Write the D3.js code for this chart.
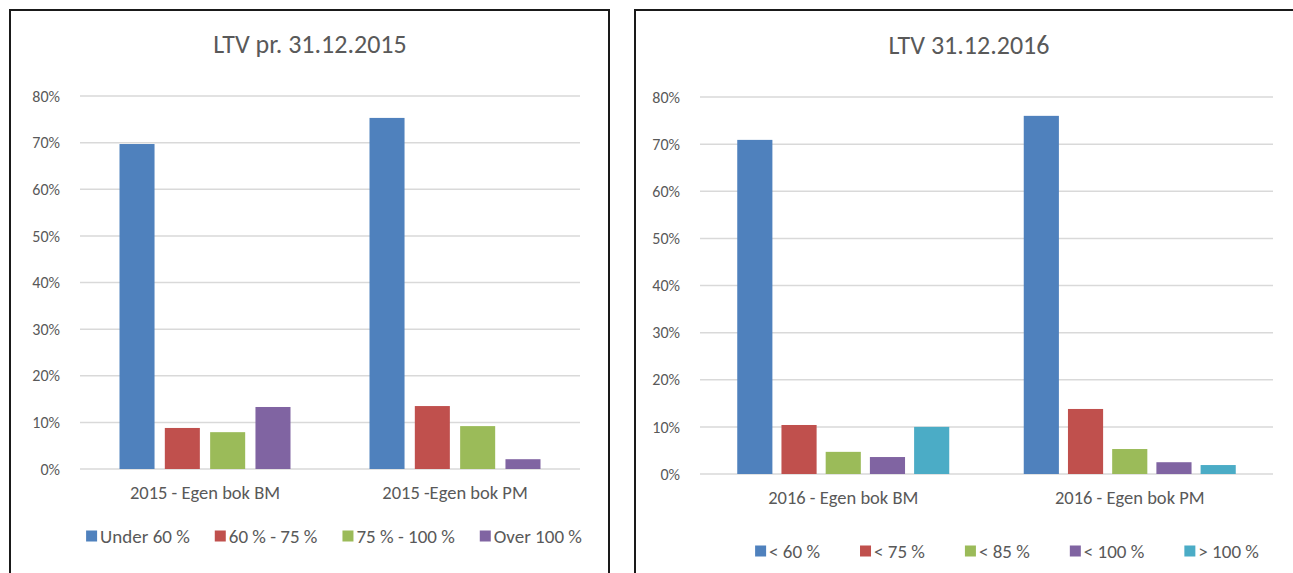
<!DOCTYPE html>
<html>
<head>
<meta charset="utf-8">
<script src="https://cdn.jsdelivr.net/npm/d3@7"></script>
<style>
  html, body { margin: 0; padding: 0; background: #fff; }
  svg { display: block; }
  text { font-family: Carlito, Lato, "Open Sans", sans-serif; fill: #595959; }
</style>
</head>
<body>
<svg id="chart" width="1293" height="573"></svg>
<script>
// Данные — первый график (2015)
const cats2015 = ['2015 - Egen bok BM', '2015 -Egen bok PM'];
const series2015 = ['Under 60 %', '60 % - 75 %', '75 % - 100 %', 'Over 100 %'];
const values2015 = [
    [69.7, 8.8, 7.9, 13.3],
    [75.3, 13.5, 9.2, 2.1]
];

// Данные — второй график (2016)
const cats2016 = ['2016 - Egen bok BM', '2016 - Egen bok PM'];
const series2016 = ['< 60 %', '< 75 %', '< 85 %', '< 100 %', '> 100 %'];
const values2016 = [
    [70.9, 10.4, 4.7, 3.6, 10.0],
    [76.0, 13.8, 5.3, 2.5, 1.9]
];

const yTicks = [0, 10, 20, 30, 40, 50, 60, 70, 80];
const colors = ['#4F81BD', '#C0504D', '#9BBB59', '#8064A2', '#4BACC6'];

const svg = d3.select('#chart');

// Рисуем одну панель
const drawPanel = (cfg) => {
    const g = svg.append('g');

    // рамка
    g.append('rect')
        .attr('x', cfg.box[0]).attr('y', cfg.box[1])
        .attr('width', cfg.box[2]).attr('height', cfg.box[3])
        .attr('fill', '#fff').attr('stroke', '#1a1a1a').attr('stroke-width', 2);

    g.append('text')
        .attr('x', cfg.titleX).attr('y', cfg.titleY)
        .attr('text-anchor', 'middle').attr('dominant-baseline', 'middle')
        .style('font-size', '26px')
        .text(cfg.title);

    const y = d3.scaleLinear().domain([0, 80]).range([cfg.bottom, cfg.top]);
    const x0 = d3.scaleBand().domain(cfg.cats)
        .range([cfg.left, cfg.right])
        .paddingInner(cfg.groupPad).paddingOuter(cfg.groupPad / 2);
    const x1 = d3.scaleBand().domain(cfg.series)
        .range([0, x0.bandwidth()])
        .paddingInner(cfg.barPad);

    // сетка
    g.append('g')
        .selectAll('line')
        .data(yTicks)
        .join('line')
        .attr('x1', cfg.left).attr('x2', cfg.right)
        .attr('y1', d => y(d)).attr('y2', d => y(d))
        .attr('stroke', '#D9D9D9').attr('stroke-width', 1.5);

    // подписи оси Y
    const yAxis = d3.axisLeft(y).tickValues(yTicks).tickSize(0).tickPadding(0)
        .tickFormat(d => d + '%');
    const ya = g.append('g')
        .attr('transform', `translate(${cfg.left - 20},0)`)
        .call(yAxis);
    ya.select('.domain').remove();
    ya.selectAll('text').style('font-size', '16px').attr('fill', '#595959');

    // столбики
    g.append('g')
        .selectAll('g')
        .data(cfg.values)
        .join('g')
        .attr('transform', (d, i) => `translate(${x0(cfg.cats[i])},0)`)
        .selectAll('rect')
        .data(d => d.map((v, j) => ({ v: v, s: cfg.series[j], j: j })))
        .join('rect')
        .attr('x', d => x1(d.s))
        .attr('width', x1.bandwidth())
        .attr('y', d => y(d.v))
        .attr('height', d => y(0) - y(d.v))
        .attr('fill', d => colors[d.j]);

    // подписи категорий
    const xAxis = d3.axisBottom(x0).tickSize(0).tickPadding(0);
    const xa = g.append('g')
        .attr('transform', `translate(0,${cfg.catY})`)
        .call(xAxis);
    xa.select('.domain').remove();
    xa.selectAll('text').style('font-size', '18.5px').attr('fill', '#595959')
        .attr('dy', '0.35em').attr('y', 0);

    // легенда
    const lg = g.append('g');
    const items = lg.selectAll('g')
        .data(cfg.series)
        .join('g');
    items.append('rect')
        .attr('width', 11).attr('height', 11).attr('y', -5.5)
        .attr('fill', (d, i) => colors[i]);
    items.append('text')
        .attr('x', 14).attr('dy', '0.35em')
        .style('font-size', '19px')
        .text(d => d);
    let pos = 0;
    items.each(function () {
        const w = this.querySelector('text').getComputedTextLength() + 14;
        d3.select(this).attr('data-x', pos);
        pos += w + cfg.legendGap;
    });
    const total = pos - cfg.legendGap;
    items.attr('transform', function () {
        return `translate(${cfg.legendCx - total / 2 + (+this.getAttribute('data-x'))},${cfg.legendY})`;
    });
};

drawPanel({
    box: [10, 10, 599, 600],
    title: 'LTV pr. 31.12.2015', titleX: 310, titleY: 47,
    left: 80, right: 580, top: 96, bottom: 469,
    cats: cats2015, series: series2015, values: values2015,
    groupPad: 0.316, barPad: 0.227,
    catY: 493, legendY: 536, legendCx: 334, legendGap: 25
});

drawPanel({
    box: [635, 10, 720, 600],
    title: 'LTV 31.12.2016', titleX: 969, titleY: 48,
    left: 700, right: 1273, top: 97, bottom: 474,
    cats: cats2016, series: series2016, values: values2016,
    groupPad: 0.26, barPad: 0.205,
    catY: 498, legendY: 551, legendCx: 1007, legendGap: 40
});
</script>
</body>
</html>
